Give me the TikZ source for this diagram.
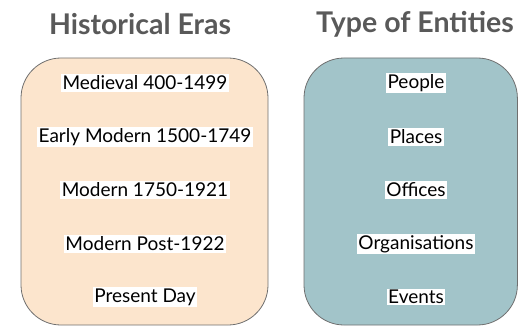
\documentclass[tikz,border=0pt]{standalone}
\usepackage{fontspec}
\setmainfont{Lato}
\usetikzlibrary{positioning}

\definecolor{erafill}{HTML}{FCE5CD}
\definecolor{entityfill}{HTML}{A2C4C9}
\definecolor{panelline}{HTML}{6F6F6F}
\definecolor{titlegrey}{HTML}{595959}

\tikzset{
  panel/.style={draw=panelline, line width=0.8pt, rounded corners=40pt},
  heading/.style={font=\bfseries\fontsize{28.5}{32}\selectfont, text=titlegrey},
  item/.style={fill=white, inner sep=1.5pt, font=\fontsize{19}{22}\selectfont}
}

\begin{document}
\begin{tikzpicture}[x=1pt, y=1pt]
  \useasboundingbox (0,0) rectangle (518,327);
  % The two rounded panels.
  \draw[panel, fill=erafill] (21,2) rectangle (268,269);
  \draw[panel, fill=entityfill] (304,2) rectangle (517.4,269);
  % Headings above each panel.
  \node[heading] (eras) at (140,303) {Historical Eras};
  \node[heading] (entities) at (415,303) {Type of Entities};
  % Era labels, top to bottom.
  \node[item] (medieval) at (145,244) {Medieval 400-1499};
  \node[item] (early) at (145,190) {Early Modern 1500-1749};
  \node[item] (modern) at (145,137) {Modern 1750-1921};
  \node[item] (post) at (145,83) {Modern Post-1922};
  \node[item] (present) at (145,30) {Present Day};
  % Entity labels, top to bottom.
  \node[item] (people) at (416,244) {People};
  \node[item] (places) at (416,190) {Places};
  \node[item] (offices) at (416,137) {Offices};
  \node[item] (orgs) at (416,83) {Organisations};
  \node[item] (events) at (416,30) {Events};
\end{tikzpicture}
\end{document}
